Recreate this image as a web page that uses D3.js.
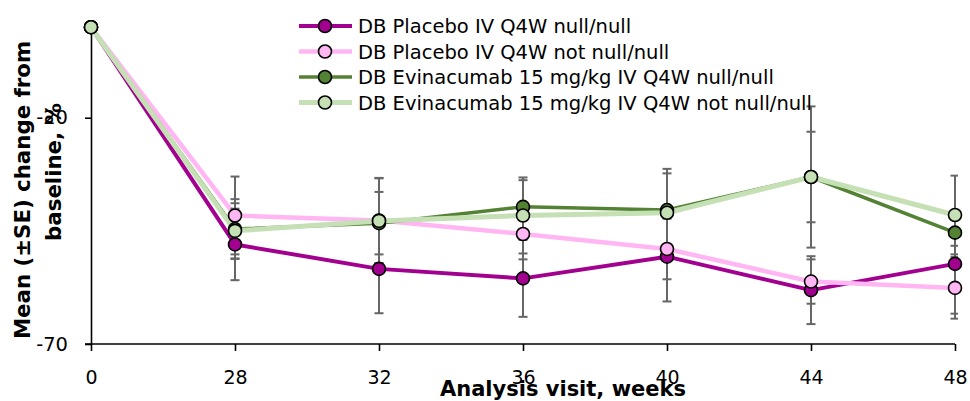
<!DOCTYPE html>
<html>
<head>
<meta charset="utf-8">
<script src="https://cdn.jsdelivr.net/npm/d3@7"></script>
<style>
  html, body { margin: 0; padding: 0; background: #fff; }
  svg { display: block; }
  text { font-family: "DejaVu Sans", sans-serif; fill: #000; }
</style>
</head>
<body>
<svg id="chart" width="970" height="401"></svg>
<script>
// Analysis visits (weeks)
const weeks = ["0", "28", "32", "36", "40", "44", "48"];

// Mean % change from baseline and its standard error, per group
const placeboNull      = [0, -48.0, -53.4, -55.5, -50.7, -58.1, -52.3];
const placeboNullSE    = [0, 7.9, 9.8, 8.5, 9.9, 7.5, 11.0];
const placeboNotNull   = [0, -41.6, -42.7, -45.7, -49.0, -56.2, -57.6];
const placeboNotNullSE = [0, 8.6, 9.4, 5.6, 6.7, 4.9, 6.8];
const evinNull         = [0, -44.6, -43.3, -39.7, -40.4, -33.1, -45.4];
const evinNullSE       = [0, 6.6, 6.9, 5.9, 9.1, 10.0, 2.9];
const evinNotNull      = [0, -45.0, -42.8, -41.6, -41.0, -33.1, -41.5];
const evinNotNullSE    = [0, 6.1, 9.4, 8.4, 8.7, 15.6, 8.7];

const seriesNames = [
  "DB Placebo IV Q4W null/null",
  "DB Placebo IV Q4W not null/null",
  "DB Evinacumab 15 mg/kg IV Q4W null/null",
  "DB Evinacumab 15 mg/kg IV Q4W not null/null"
];

const yTicks = [-70, -20];
const yDomain = [-70, 0];

const series = [
  { name: seriesNames[0], values: placeboNull,    se: placeboNullSE,    color: "#a2008f", width: 4 },
  { name: seriesNames[1], values: placeboNotNull, se: placeboNotNullSE, color: "#ffb6f3", width: 4.5 },
  { name: seriesNames[2], values: evinNull,       se: evinNullSE,       color: "#548235", width: 3.5 },
  { name: seriesNames[3], values: evinNotNull,    se: evinNotNullSE,    color: "#c5e0b4", width: 5 }
];

const svg = d3.select("#chart");

const plot = { left: 91, right: 955, top: 27.2, bottom: 344 };

const x = d3.scalePoint().domain(weeks).range([plot.left, plot.right]);
const y = d3.scaleLinear().domain(yDomain).range([plot.bottom, plot.top]);

// Axes
const xAxis = d3.axisBottom(x).tickSize(7).tickPadding(20).tickSizeOuter(0);
const gx = svg.append("g").attr("transform", `translate(0,${plot.bottom})`).call(xAxis);
gx.select(".domain").attr("stroke", "#000").attr("stroke-width", 1.6)
  .attr("d", `M${plot.left - 6},0H${plot.right}`);
gx.selectAll(".tick line").attr("stroke", "#000").attr("stroke-width", 1.6);
gx.selectAll(".tick text").attr("font-size", 19).attr("font-family", "DejaVu Sans").attr("fill", "#000");

const yAxis = d3.axisLeft(y).tickValues(yTicks).tickFormat(d => String(d))
  .tickSize(6).tickPadding(17).tickSizeOuter(0);
const gy = svg.append("g").attr("transform", `translate(${plot.left},0)`).call(yAxis);
gy.select(".domain").attr("stroke", "#000").attr("stroke-width", 1.6);
gy.selectAll(".tick line").attr("stroke", "#000").attr("stroke-width", 1.6);
gy.selectAll(".tick text").attr("font-size", 19.5).attr("font-family", "DejaVu Sans").attr("fill", "#000");

// Axis titles
svg.append("text")
  .attr("x", 563).attr("y", 396)
  .attr("text-anchor", "middle")
  .attr("font-size", 21).attr("font-weight", "bold")
  .text("Analysis visit, weeks");

svg.append("text")
  .attr("transform", "translate(23,190) rotate(-90)")
  .attr("text-anchor", "middle").attr("dy", "0.35em")
  .attr("font-size", 21.3).attr("font-weight", "bold")
  .text("Mean (±SE) change from");
svg.append("text")
  .attr("transform", "translate(54,172) rotate(-90)")
  .attr("text-anchor", "middle").attr("dy", "0.35em")
  .attr("font-size", 21.3).attr("font-weight", "bold")
  .text("baseline, %");

// Clip error bars to the plot area
svg.append("clipPath").attr("id", "plotClip")
  .append("rect").attr("x", plot.left).attr("y", 0).attr("width", 958 - plot.left).attr("height", 401);

const line = d3.line().x((d, i) => x(weeks[i])).y(d => y(d));

// Lines
svg.append("g").selectAll("path").data(series).join("path")
  .attr("d", s => line(s.values))
  .attr("fill", "none")
  .attr("stroke", s => s.color)
  .attr("stroke-width", s => s.width)
  .attr("stroke-linejoin", "round");

// Error bars (±SE)
const eb = svg.append("g").attr("clip-path", "url(#plotClip)")
  .attr("stroke", "#666").attr("stroke-width", 2);
series.forEach(s => {
  s.values.forEach((v, i) => {
    const e = s.se[i];
    if (!e) return;
    const cx = x(weeks[i]);
    const y1 = y(v + e), y2 = y(v - e);
    eb.append("line").attr("x1", cx).attr("x2", cx).attr("y1", y1).attr("y2", y2);
    eb.append("line").attr("x1", cx - 4.5).attr("x2", cx + 4.5).attr("y1", y1).attr("y2", y1);
    eb.append("line").attr("x1", cx - 4.5).attr("x2", cx + 4.5).attr("y1", y2).attr("y2", y2);
  });
});

// Markers
series.forEach(s => {
  svg.append("g").selectAll("circle").data(s.values).join("circle")
    .attr("cx", (d, i) => x(weeks[i]))
    .attr("cy", d => y(d))
    .attr("r", 6.5)
    .attr("fill", s.color)
    .attr("stroke", "#000")
    .attr("stroke-width", 1.6);
});

// Legend
const legend = svg.append("g");
const legendRowY = d3.scalePoint().domain(seriesNames).range([26, 102.5]);
series.forEach(s => {
  const ly = legendRowY(s.name);
  legend.append("line")
    .attr("x1", 299).attr("x2", 352).attr("y1", ly).attr("y2", ly)
    .attr("stroke", s.color).attr("stroke-width", s.width);
  legend.append("circle")
    .attr("cx", 325).attr("cy", ly).attr("r", 6.5)
    .attr("fill", s.color).attr("stroke", "#000").attr("stroke-width", 1.6);
  legend.append("text")
    .attr("x", 358).attr("y", ly).attr("dy", "0.36em")
    .attr("font-size", 19.5)
    .text(s.name);
});
</script>
</body>
</html>
